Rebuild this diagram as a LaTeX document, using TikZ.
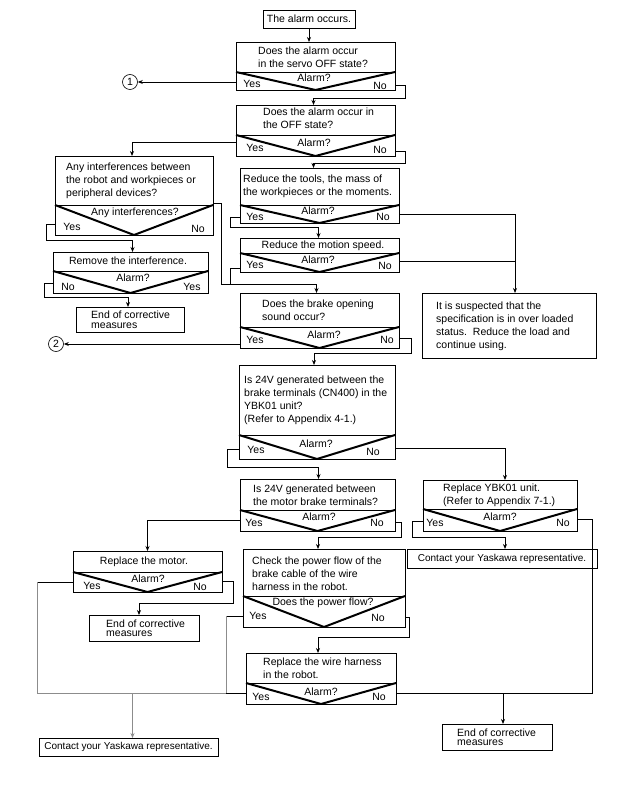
\documentclass[tikz,border=0pt]{standalone}
\usepackage{fontspec}
\setmainfont{Liberation Sans}
\usetikzlibrary{arrows.meta,calc}
\newcommand\fs{\fontsize{10.5}{13}\selectfont}
\newcommand\fsc{\fontsize{10}{12}\selectfont}
\newcommand\fse{\fontsize{10.5}{9.5}\selectfont}
\newcommand\rect[5]{\node[box, minimum width={(#4)-(#2)}, minimum height={(#5)-(#3)}] (#1) at (#2,#3) {};}
\begin{document}
\begin{tikzpicture}[x=1pt,y=-1pt,
 box/.style={draw, line width=0.8pt, inner sep=0pt, outer sep=0pt, anchor=north west},
 txt/.style={inner sep=0pt, align=left, font=\fs, anchor=west},
 etxt/.style={inner sep=0pt, align=left, font=\fse, anchor=west},
 lbl/.style={inner sep=0pt, font=\fs},
 vl/.style={line width=2pt, line join=round},
 ln/.style={line width=0.8pt},
 arr/.style={line width=0.8pt, -{Stealth[length=5pt,width=4pt]}},
 gl/.style={line width=0.9pt, draw=black!45},
 garr/.style={gl, -{Stealth[length=5pt,width=4pt]}},
 circ/.style={circle, draw, line width=0.6pt, minimum size=15pt, inner sep=0pt, font=\fs}
 ]
\fill[white] (0,0) rectangle (644,794);
\useasboundingbox (0,0) rectangle (644,794);

% start
\node[box, minimum width=92, minimum height=18, font=\fs] (A) at (263,10) {The alarm occurs.};

% D1
\rect{D1}{236}{42}{395}{72}
\rect{D1b}{236}{72}{395}{90}
\node[txt] (D1t) at (258,57) {Does the alarm occur\\in the servo OFF state?};
\draw[vl] (D1b.north west) -- (D1b.south) -- (D1b.north east);
\node[lbl] (D1y) at (252,84) {Yes};
\node[lbl] (D1a) at (314,78) {Alarm?};
\node[lbl] (D1n) at (380,86) {No};
\node[circ] (c1) at (130,82) {1};

% D2
\rect{D2}{236}{105}{395}{135}
\rect{D2b}{236}{135}{395}{156}
\node[txt] (D2t) at (263,118.5) {Does the alarm occur in\\the OFF state?};
\draw[vl] (D2b.north west) -- (D2b.south) -- (D2b.north east);
\node[lbl] (D2y) at (255,148) {Yes};
\node[lbl] (D2a) at (314,143) {Alarm?};
\node[lbl] (D2n) at (380,150) {No};

% D3
\rect{D3}{55}{156}{213}{205}
\rect{D3b}{55}{205}{213}{235}
\node[txt] (D3t) at (66,181) {Any interferences between\\the robot and workpieces or\\peripheral devices?};
\draw[vl] (D3b.north west) -- (D3b.south) -- (D3b.north east);
\node[lbl] (D3a) at (135,213) {Any interferences?};
\node[lbl] (D3y) at (72,227) {Yes};
\node[lbl] (D3n) at (198,229) {No};

% D4
\rect{D4}{53}{252}{208}{271}
\rect{D4b}{53}{271}{208}{293}
\node[lbl] (D4t) at (128,261) {Remove the interference.};
\draw[vl] (D4b.north west) -- (D4b.south) -- (D4b.north east);
\node[lbl] (D4n) at (68,287) {No};
\node[lbl] (D4a) at (133,278) {Alarm?};
\node[lbl] (D4y) at (192,287) {Yes};

% E1
\rect{E1}{76}{307}{184}{332}
\node[etxt] (E1t) at (91,319.5) {End of corrective\\measures};

% D5
\rect{D5}{240}{168}{399}{205}
\rect{D5b}{240}{205}{399}{223}
\node[txt] (D5t) at (243,186.5) {Reduce the tools, the mass of\\the workpieces or the moments.};
\draw[vl] (D5b.north west) -- (D5b.south) -- (D5b.north east);
\node[lbl] (D5y) at (255,217) {Yes};
\node[lbl] (D5a) at (318,211) {Alarm?};
\node[lbl] (D5n) at (383,217) {No};

% D6
\rect{D6}{240}{238}{399}{253}
\rect{D6b}{240}{253}{399}{272}
\node[lbl] (D6t) at (323,246) {Reduce the motion speed.};
\draw[vl] (D6b.north west) -- (D6b.south) -- (D6b.north east);
\node[lbl] (D6y) at (255,265) {Yes};
\node[lbl] (D6a) at (318,260) {Alarm?};
\node[lbl] (D6n) at (385,266) {No};

% D7
\rect{D7}{240}{293}{399}{327}
\rect{D7b}{240}{327}{399}{348}
\node[txt] (D7t) at (262,310.5) {Does the brake opening\\sound occur?};
\draw[vl] (D7b.north west) -- (D7b.south) -- (D7b.north east);
\node[lbl] (D7y) at (255,340) {Yes};
\node[lbl] (D7a) at (324,335) {Alarm?};
\node[lbl] (D7n) at (387,340) {No};
\node[circ] (c2) at (56,344) {2};

% S
\rect{S}{422}{293}{596}{358}
\node[txt] (St) at (436,326) {It is suspected that the\\specification is in over loaded\\status.\ \ Reduce the load and\\continue using.};

% D8
\rect{D8}{239}{365}{395}{435}
\rect{D8b}{239}{435}{395}{459}
\node[txt] (D8t) at (244,400) {Is 24V generated between the\\brake terminals (CN400) in the\\YBK01 unit?\\(Refer to Appendix 4-1.)};
\draw[vl] (D8b.north west) -- (D8b.south) -- (D8b.north east);
\node[lbl] (D8y) at (256,450) {Yes};
\node[lbl] (D8a) at (316,444) {Alarm?};
\node[lbl] (D8n) at (373,452) {No};

% D9
\rect{D9}{240}{479}{395}{510}
\rect{D9b}{240}{510}{395}{531}
\node[txt] (D9t) at (253,495) {Is 24V generated between\\the motor brake terminals?};
\draw[vl] (D9b.north west) -- (D9b.south) -- (D9b.north east);
\node[lbl] (D9y) at (254,523) {Yes};
\node[lbl] (D9a) at (319,517) {Alarm?};
\node[lbl] (D9n) at (377,523) {No};

% D10
\rect{D10}{423}{480}{577}{509}
\rect{D10b}{423}{509}{577}{531}
\node[txt] (D10t) at (443,495.5) {Replace YBK01 unit.\\(Refer to Appendix 7-1.)};
\draw[vl] (D10b.north west) -- (D10b.south) -- (D10b.north east);
\node[lbl] (D10y) at (435,523) {Yes};
\node[lbl] (D10a) at (500,517) {Alarm?};
\node[lbl] (D10n) at (563,523) {No};

% C1
\node[box, minimum width=190, minimum height=19, font=\fsc] (C1) at (407,549) {Contact your Yaskawa representative.};

% D11
\rect{D11}{73}{551}{222}{572}
\rect{D11b}{73}{572}{222}{592}
\node[lbl] (D11t) at (144,562) {Replace the motor.};
\draw[vl] (D11b.north west) -- (D11b.south) -- (D11b.north east);
\node[lbl] (D11y) at (92,586) {Yes};
\node[lbl] (D11a) at (148,579) {Alarm?};
\node[lbl] (D11n) at (200,587) {No};

% E2
\rect{E2}{89}{615}{199}{641}
\node[etxt] (E2t) at (106,628) {End of corrective\\measures};

% D12
\rect{D12}{243}{549}{405}{596}
\rect{D12b}{243}{596}{405}{627}
\node[txt] (D12t) at (252,573.5) {Check the power flow of the\\brake cable of the wire\\harness in the robot.};
\draw[vl] (D12b.north west) -- (D12b.south) -- (D12b.north east);
\node[lbl] (D12a) at (323,603) {Does the power flow?};
\node[lbl] (D12y) at (258,616) {Yes};
\node[lbl] (D12n) at (378,618) {No};

% D13
\rect{D13}{246}{653}{396}{683}
\rect{D13b}{246}{683}{396}{704}
\node[txt] (D13t) at (263,668) {Replace the wire harness\\in the robot.};
\draw[vl] (D13b.north west) -- (D13b.south) -- (D13b.north east);
\node[lbl] (D13y) at (261,697) {Yes};
\node[lbl] (D13a) at (321,692) {Alarm?};
\node[lbl] (D13n) at (379,697) {No};

% C2, E3
\node[box, minimum width=179, minimum height=18, font=\fsc] (C2) at (39,738) {Contact your Yaskawa representative.};
\rect{E3}{442}{724}{552}{750}
\node[etxt] (E3t) at (457,737) {End of corrective\\measures};

% junctions
\coordinate (j1) at (221,284);
\coordinate (j3) at (503,693);
\coordinate (j4) at (37,693);
\coordinate (j5) at (226,693);
\coordinate (y12) at ($(D12b.south west)+(0,-11)$);
\coordinate (j6) at ($(C2.north)+(4,0)$);

% connectors
\draw[arr] (A.south) -- (A.south |- D1.north);
\draw[arr] (c1.east -| D1b.west) -- (c1.east);
\draw[arr] ($(D1b.south east)+(0,-5)$) -- ++(10,0) -- ++(0,13) -| ($(D2.north)+(-2,0)$);
\draw[arr] ($(D2b.north west)+(0,7)$) -| ($(D3.north)+(-2,0)$);
\draw[arr] ($(D2b.south east)+(0,-5)$) -- ++(10,0) -- ++(0,12) -| ($(D5.north)+(-6,0)$);
\draw[arr] ($(D3b.south west)+(0,-11)$) -- ++(-9,0) -- ++(0,16) -| ($(D4.north)+(2,0)$);
\draw[arr] ($(D3.south east)+(0,-2)$) -| (j1) -| ($(D7.north)+(-3,0)$);
\draw[arr] ($(D4b.south west)+(0,-10)$) -- ++(-9,0) -- ++(0,14) -| ($(E1.north)+(-2,0)$);
\draw[arr] ($(D5b.south west)+(0,-6)$) -- ++(-10,0) |- ($(D6.north)+(-1,-11)$) -- ($(D6.north)+(-1,0)$);
\draw[ln] ($(D6b.south west)+(0,-4)$) -- ++(-10,0) -- ++(0,16);
\draw[arr] ($(D5b.south east)+(0,-9)$) -| ($(S.north)+(6,0)$);
\draw[ln] ($(D6b.south east)+(0,-11)$) -- ++(116,0);
\draw[arr] (c2.east -| D7b.west) -- (c2.east);
\draw[arr] ($(D7b.south east)+(0,-10)$) -- ++(12,0) -- ++(0,15) -| ($(D8.north)+(-3,0)$);
\draw[arr] ($(D8b.south west)+(0,-10)$) -- ++(-12,0) -- ++(0,18) -| ($(D9.north)+(1,0)$);
\draw[arr] ($(D8b.south east)+(0,-11)$) -| ($(D10.north)+(5,0)$);
\draw[arr] ($(D9b.south west)+(0,-11)$) -| (D11.north);
\draw[arr] ($(D9b.south east)+(0,-9)$) -- ++(6,0) -- ++(0,15) -| ($(D12.north)+(-6,0)$);
\draw[arr] ($(D10b.south west)+(0,-10)$) -- ++(-11,0) -- ++(0,16) -| ($(C1.north)+(3,0)$);
\draw[ln] ($(D10b.south east)+(0,-12)$) -- ++(15,0) |- (j3);
\draw[ln] (j3 -| D13b.east) -- (j3);
\draw[arr] (j3) -- (j3 |- E3.north);
\draw[arr] ($(D11b.north east)+(0,9)$) -- ++(11,0) -- ++(0,22) -| ($(E2.north)+(-5,0)$);
\draw[ln] (D11b.west) -- (D11b.west -| j4);
\draw[gl] (D11b.west -| j4) -- (j4) -- (j5);
\draw[ln] (j5) -- (j5 -| D13b.west);
\draw[ln] (y12) -- (y12 -| j5);
\draw[gl] (y12 -| j5) -- (j5);
\draw[garr] (j6 |- j4) -- (j6);
\draw[arr] ($(D12b.south east)+(0,-10)$) -- ++(4,0) -- ++(0,20) -| ($(D13.north)+(-3,0)$);
\end{tikzpicture}
\end{document}
